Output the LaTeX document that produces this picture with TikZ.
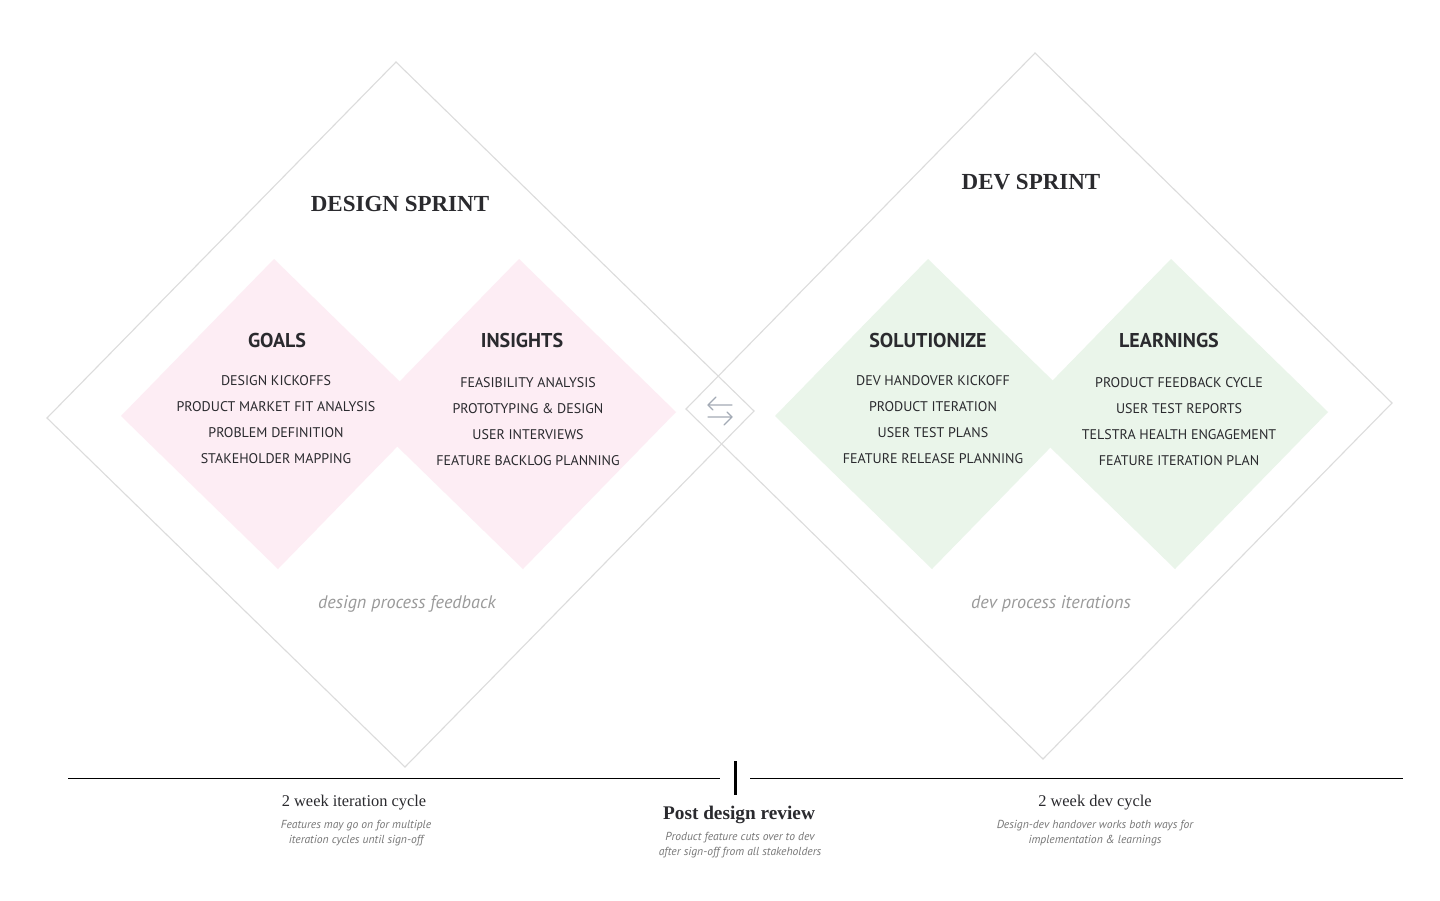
\documentclass[tikz,border=0pt]{standalone}
\usepackage{fontspec}
\setmainfont{Liberation Serif}
\setsansfont{PT Sans}
\begin{document}
\begin{tikzpicture}[x=1pt,y=-1pt,
  outline/.style={draw=frameGray,line width=1.1pt,line join=miter},
  pinkfill/.style={fill=pinkBg},
  greenfill/.style={fill=greenBg},
  sprint/.style={font=\fontsize{23}{26}\selectfont\bfseries,text=inkDark},
  phase/.style={font=\sffamily\fontsize{20}{22}\selectfont\bfseries,text=inkDark},
  item/.style={font=\sffamily\fontsize{14}{16}\selectfont,text=inkDark},
  loop/.style={font=\sffamily\itshape\fontsize{18.2}{20}\selectfont,text=loopGray},
  cyclehead/.style={font=\fontsize{16.4}{18}\selectfont,text=inkDark},
  reviewhead/.style={font=\fontsize{19.3}{21}\selectfont\bfseries,text=inkDark},
  note/.style={font=\sffamily\itshape\fontsize{11.6}{13}\selectfont,text=noteGray},
  rule/.style={draw=black,line width=0.9pt},
  swap/.style={draw=arrowGray,line width=1.1pt,line cap=round,line join=round}]
\definecolor{frameGray}{HTML}{DCDCDC}
\definecolor{pinkBg}{HTML}{FDEDF4}
\definecolor{greenBg}{HTML}{EAF5EA}
\definecolor{inkDark}{HTML}{2A2A2E}
\definecolor{loopGray}{HTML}{9A9A9A}
\definecolor{noteGray}{HTML}{777777}
\definecolor{arrowGray}{HTML}{A3AAB5}

\useasboundingbox[fill=white] (0,0) rectangle (1440,900);

% phase diamonds
\fill[pinkfill]  (274,259) -- (121,416) -- (278,569) -- (431,412) -- cycle;
\fill[pinkfill]  (519,259) -- (366,416) -- (523,569) -- (676,412) -- cycle;
\fill[greenfill] (928,259) -- (775,416) -- (932,569) -- (1085,412) -- cycle;
\fill[greenfill] (1171,259) -- (1018,416) -- (1175,569) -- (1328,412) -- cycle;

% sprint diamonds
\draw[outline] (396,62) -- (47,418) -- (405,767) -- (754,411) -- cycle;
\draw[outline] (1035,53) -- (686,409) -- (1043,759) -- (1392,403) -- cycle;

% two-way handover arrows
\coordinate (ua) at (732,405); \coordinate (ub) at (708,405);
\coordinate (la) at (708,417); \coordinate (lb) at (732,417);
\draw[swap] (ua) -- (ub) -- ++(8,-8);
\draw[swap] (ub) -- ++(5,5);
\draw[swap] (la) -- (lb) -- ++(-8,8);
\draw[swap] (lb) -- ++(-5,-5);

% titles
\node[sprint] (ds) at (400,204) {DESIGN SPRINT};
\node[sprint] (dv) at (1031,182) {DEV SPRINT};

% phase headings
\node[phase] (goals) at (277,340) {GOALS};
\node[phase] (ins) at (522,340) {INSIGHTS};
\node[phase] (sol) at (928,340) {SOLUTIONIZE};
\node[phase] (lrn) at (1169,340) {LEARNINGS};

% phase items
\foreach \t [count=\i] in {DESIGN KICKOFFS,PRODUCT MARKET FIT ANALYSIS,PROBLEM DEFINITION,STAKEHOLDER MAPPING}
  \node[item] (g\i) at (276,355+26*\i) {\t};
\foreach \t [count=\i] in {FEASIBILITY ANALYSIS,PROTOTYPING \& DESIGN,USER INTERVIEWS,FEATURE BACKLOG PLANNING}
  \node[item] (n\i) at (528,357+26*\i) {\t};
\foreach \t [count=\i] in {DEV HANDOVER KICKOFF,PRODUCT ITERATION,USER TEST PLANS,FEATURE RELEASE PLANNING}
  \node[item] (s\i) at (933,355+26*\i) {\t};
\foreach \t [count=\i] in {PRODUCT FEEDBACK CYCLE,USER TEST REPORTS,TELSTRA HEALTH ENGAGEMENT,FEATURE ITERATION PLAN}
  \node[item] (l\i) at (1179,357+26*\i) {\t};

% loop labels
\node[loop] (dpf) at (407,604) {design process feedback};
\node[loop] (dpi) at (1051,604) {dev process iterations};

% timeline
\coordinate (t0) at (68,778);  \coordinate (t1) at (720,778);
\coordinate (t2) at (750,778); \coordinate (t3) at (1403,778);
\coordinate (m0) at (735,761); \coordinate (m1) at (735,795);
\draw[rule] (t0) -- (t1);
\draw[rule] (t2) -- (t3);
\draw[draw=black,line width=3pt] (m0) -- (m1);

% timeline captions
\node[cyclehead] (c1) at (354,803) {2 week iteration cycle};
\node[note] (c1a) at (356,826) {Features may go on for multiple};
\node[note] (c1b) at (356,841) {iteration cycles until sign-off};

\node[reviewhead] (pr) at (739,815) {Post design review};
\node[note] (pra) at (740,838) {Product feature cuts over to dev};
\node[note] (prb) at (740,853) {after sign-off from all stakeholders};

\node[cyclehead] (c2) at (1095,803) {2 week dev cycle};
\node[note] (c2a) at (1095,826) {Design-dev handover works both ways for};
\node[note] (c2b) at (1095,841) {implementation \& learnings};
\end{tikzpicture}
\end{document}
